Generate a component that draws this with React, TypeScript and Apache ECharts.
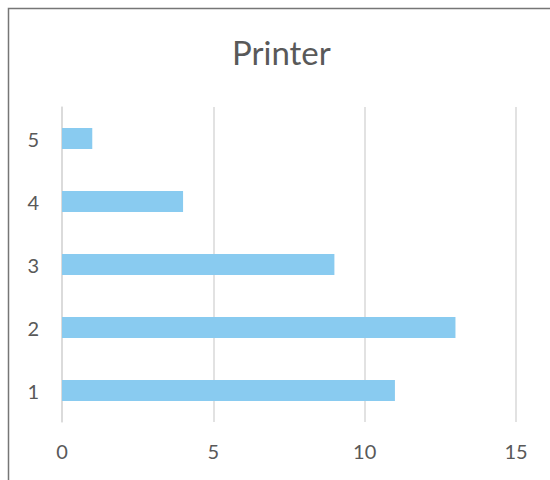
import React, { useEffect, useRef } from "react";
import * as echarts from "echarts";

const categories = ["1", "2", "3", "4", "5"];
const counts = [11, 13, 9, 4, 1];
const valueTicks = { min: 0, max: 15, interval: 5 };

export default function App() {
  const ref = useRef<HTMLDivElement>(null);

  useEffect(() => {
    if (!ref.current) return;
    const chart = echarts.init(ref.current, undefined, { renderer: "svg" });
    chart.setOption({
      animation: false,
      backgroundColor: "#ffffff",
      textStyle: { fontFamily: "Lato, 'Open Sans', sans-serif" },
      title: {
        text: "Printer",
        left: 232,
        top: 35,
        padding: 0,
        textStyle: { fontSize: 33, fontWeight: "normal", color: "#595959", fontFamily: "Lato, sans-serif" },
      },
      graphic: [
        {
          type: "rect",
          shape: { x: 8.5, y: 8.5, width: 700, height: 700 },
          style: { fill: "none", stroke: "#767676", lineWidth: 1.5 },
          silent: true,
        },
      ],
      grid: { left: 62, right: 34, top: 107, bottom: 58 },
      xAxis: {
        type: "value",
        min: valueTicks.min,
        max: valueTicks.max,
        interval: valueTicks.interval,
        axisLine: { show: false },
        axisTick: { show: false },
        axisLabel: { color: "#595959", fontSize: 20, margin: 19 },
        splitLine: { lineStyle: { color: "#d9d9d9", width: 1.5 } },
      },
      yAxis: {
        type: "category",
        data: categories,
        axisLine: { show: true, lineStyle: { color: "#d9d9d9", width: 1.5 } },
        axisTick: { show: false },
        axisLabel: { color: "#595959", fontSize: 20, margin: 23 },
      },
      series: [
        {
          type: "bar",
          data: counts,
          barWidth: 21,
          itemStyle: { color: "#89CBF0" },
        },
      ],
    });
    return () => chart.dispose();
  }, []);

  return (
    <div
      ref={ref}
      style={{ position: "fixed", left: 0, top: 0, width: 550, height: 480 }}
    />
  );
}
